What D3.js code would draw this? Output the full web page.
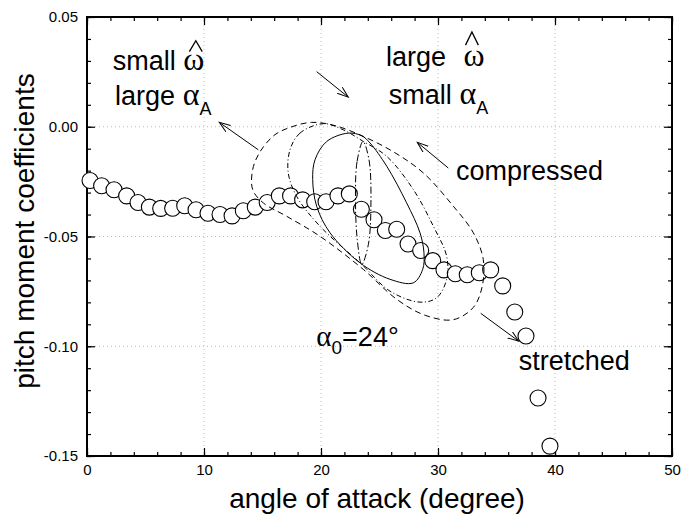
<!DOCTYPE html>
<html>
<head>
<meta charset="utf-8">
<script src="https://cdn.jsdelivr.net/npm/d3@7"></script>
<style>
  body { margin: 0; background: #fff; }
  text { font-family: "Liberation Sans", Arial, sans-serif; }
  .greek { font-family: "Liberation Serif", "DejaVu Serif", serif; }
</style>
</head>
<body>
<div id="chart"></div>
<script>
// static pitch moment data (open circles)
const alphaStatic = [0.26, 1.25, 2.31, 3.39, 4.36, 5.33, 6.3, 7.32, 8.35, 9.32,
    10.34, 11.37, 12.4, 13.36, 14.38, 15.4, 16.44, 17.4, 18.43, 19.46,
    20.43, 21.45, 22.42, 23.45, 24.53, 25.5, 26.47, 27.44, 28.52, 29.55,
    30.51, 31.48, 32.5, 33.53, 34.5, 35.53, 36.56, 37.52, 38.55, 39.57];
const cmStatic = [-0.0245, -0.0269, -0.0287, -0.0315, -0.0345, -0.0366, -0.0372, -0.0371, -0.036, -0.0378,
    -0.0394, -0.04, -0.0406, -0.0383, -0.0366, -0.0345, -0.0315, -0.0315, -0.0333, -0.0342,
    -0.0342, -0.0315, -0.0306, -0.0376, -0.0424, -0.0473, -0.0467, -0.0534, -0.0564, -0.061,
    -0.0652, -0.067, -0.0674, -0.0665, -0.0652, -0.0725, -0.0844, -0.0953, -0.1236, -0.1455];

// dynamic loops, [alpha, cm]
const solidLoop = [[22.33, -0.0029], [20.49, -0.0067], [19.49, -0.015], [19.29, -0.0241], [19.63, -0.0362],
    [20.77, -0.0483], [23.33, -0.062], [25.9, -0.0695], [27.89, -0.0711], [28.69, -0.065],
    [28.8, -0.0574], [28.46, -0.0483], [27.32, -0.0347], [25.62, -0.018], [24.19, -0.0074], [23.48, -0.0041]];
const narrowLoop = [[23.59, -0.0067], [23.08, -0.016], [22.95, -0.0345], [23.1, -0.0514], [23.48, -0.0627],
    [24.05, -0.0536], [24.27, -0.0332], [24.1, -0.015]];
const dashDotLoop = [[20.2, 0.0014], [18.2, -0.0029], [17.35, -0.0105], [17.2, -0.021], [17.92, -0.0317],
    [19.91, -0.0453], [23.48, -0.0627], [25.9, -0.0749], [28.46, -0.0799], [29.89, -0.0779],
    [30.74, -0.0695], [30.74, -0.059], [29.6, -0.0453], [27.89, -0.0286], [25.62, -0.0135],
    [23.62, -0.0067], [21.9, -0.0014]];
const dashedLoop = [[14.16, -0.0286], [14.16, -0.0195], [14.79, -0.0114], [16.07, -0.0036], [17.52, 0.0],
    [19.2, 0.002], [21.2, 0.0005], [23.62, -0.0044], [26.18, -0.0114], [28.74, -0.021],
    [31.31, -0.0362], [33.02, -0.0483], [33.87, -0.0605], [33.76, -0.0732], [33.02, -0.0823],
    [31.31, -0.0879], [28.9, -0.0859], [26.47, -0.0786], [23.62, -0.065], [19.91, -0.0499],
    [17.07, -0.0408], [15.07, -0.0347]];

// arrows [[x0, y0], [x1, y1]] in data units, head at the second point
const arrows = [
    [[14.64, -0.0105], [11.31, 0.002]],
    [[19.63, 0.0251], [22.33, 0.0135]],
    [[30.88, -0.0188], [28.23, -0.0071]],
    [[33.65, -0.085], [36.9, -0.0977]]
];

const xTicks = [0, 10, 20, 30, 40, 50];
const yTicks = [0.05, 0.00, -0.05, -0.10, -0.15];

const margin = { top: 17, right: 11, bottom: 60, left: 87 },
    width = 683 - margin.left - margin.right,
    height = 516 - margin.top - margin.bottom;

let svg = d3.select('#chart')
    .append('svg')
    .attr('width', 683)
    .attr('height', 516);

let group = svg.append('g')
    .attr('transform', 'translate(' + margin.left + ',' + margin.top + ')');

const x = d3.scaleLinear().domain([0, 50]).range([0, width]);
const y = d3.scaleLinear().domain([-0.15, 0.05]).range([height, 0]);

// dotted grid
group.selectAll('.gx')
    .data(xTicks.slice(1, -1))
    .join('line')
    .attr('x1', d => x(d)).attr('x2', d => x(d))
    .attr('y1', 0).attr('y2', height)
    .attr('stroke', '#bbb').attr('stroke-dasharray', '1,3');
group.selectAll('.gy')
    .data(yTicks.slice(1, -1))
    .join('line')
    .attr('y1', d => y(d)).attr('y2', d => y(d))
    .attr('x1', 0).attr('x2', width)
    .attr('stroke', '#bbb').attr('stroke-dasharray', '1,3');

// axes with inward ticks
function styleAxis(g) {
    g.select('.domain').remove();
    g.selectAll('line').attr('stroke', '#000').attr('stroke-width', 1.2);
    g.selectAll('text').attr('font-size', 15).attr('fill', '#000')
        .attr('font-family', '"Liberation Sans", Arial, sans-serif');
}

const minorX = d3.range(0, 51, 2);
const minorY = d3.range(-15, 6).map(d => d / 100);

group.append('g')
    .attr('transform', `translate(0,${height})`)
    .call(d3.axisBottom(x).tickValues(xTicks).tickSize(-8).tickPadding(8).tickFormat(d3.format('d')))
    .call(styleAxis);
group.append('g')
    .attr('transform', `translate(0,${height})`)
    .call(d3.axisBottom(x).tickValues(minorX).tickSize(-4).tickFormat(''))
    .call(styleAxis);
group.append('g')
    .call(d3.axisTop(x).tickValues(xTicks).tickSize(-8).tickFormat(''))
    .call(styleAxis);
group.append('g')
    .call(d3.axisTop(x).tickValues(minorX).tickSize(-4).tickFormat(''))
    .call(styleAxis);

group.append('g')
    .call(d3.axisLeft(y).tickValues(yTicks).tickSize(-8).tickPadding(9).tickFormat(d => d.toFixed(2)))
    .call(styleAxis);
group.append('g')
    .call(d3.axisLeft(y).tickValues(minorY).tickSize(-4).tickFormat(''))
    .call(styleAxis);
group.append('g')
    .attr('transform', `translate(${width},0)`)
    .call(d3.axisRight(y).tickValues(yTicks).tickSize(-8).tickFormat(''))
    .call(styleAxis);
group.append('g')
    .attr('transform', `translate(${width},0)`)
    .call(d3.axisRight(y).tickValues(minorY).tickSize(-4).tickFormat(''))
    .call(styleAxis);

// frame
group.append('rect')
    .attr('width', width).attr('height', height)
    .attr('fill', 'none').attr('stroke', '#000').attr('stroke-width', 2);

// static points
group.selectAll('.pt')
    .data(alphaStatic.map((a, i) => [a, cmStatic[i]]))
    .join('circle')
    .attr('cx', d => x(d[0]))
    .attr('cy', d => y(d[1]))
    .attr('r', 8)
    .attr('fill', '#fff')
    .attr('stroke', '#000')
    .attr('stroke-width', 1.1);

// loops
const loopLine = d3.line()
    .x(d => x(d[0]))
    .y(d => y(d[1]))
    .curve(d3.curveCatmullRomClosed.alpha(0.5));

const loops = [
    { pts: dashedLoop, dash: '6,4' },
    { pts: dashDotLoop, dash: '5,2.5,1,2.5' },
    { pts: narrowLoop, dash: '7,2.5,1.5,2.5' },
    { pts: solidLoop, dash: null }
];
loops.forEach(l => {
    group.append('path')
        .attr('d', loopLine(l.pts))
        .attr('fill', 'none')
        .attr('stroke', '#000')
        .attr('stroke-width', 1)
        .attr('stroke-dasharray', l.dash);
});

// arrows
svg.append('defs').append('marker')
    .attr('id', 'head')
    .attr('markerUnits', 'userSpaceOnUse')
    .attr('markerWidth', 14).attr('markerHeight', 10)
    .attr('refX', 11).attr('refY', 4)
    .attr('orient', 'auto')
    .append('path')
    .attr('d', 'M0,0 L11,4 L0,8')
    .attr('fill', 'none').attr('stroke', '#000').attr('stroke-width', 1);

group.selectAll('.arrow')
    .data(arrows)
    .join('line')
    .attr('x1', d => x(d[0][0])).attr('y1', d => y(d[0][1]))
    .attr('x2', d => x(d[1][0])).attr('y2', d => y(d[1][1]))
    .attr('stroke', '#000').attr('stroke-width', 1)
    .attr('marker-end', 'url(#head)');

// annotations
function label(xv, yv, parts) {
    let t = group.append('text')
        .attr('x', x(xv)).attr('y', y(yv))
        .attr('font-size', 27);
    parts.forEach(p => {
        let s = t.append('tspan').text(p.t);
        if (p.greek) s.attr('class', 'greek');
        if (p.dx) s.attr('dx', p.dx);
        if (p.dy) s.attr('dy', p.dy);
        if (p.size) s.attr('font-size', p.size);
    });
    return t;
}
// circumflex drawn as a thin chevron over omega
function hat(xc, yTop, yFoot) {
    group.append('path')
        .attr('d', `M${x(xc - 0.55)},${y(yFoot)} L${x(xc)},${y(yTop)} L${x(xc + 0.55)},${y(yFoot)}`)
        .attr('fill', 'none').attr('stroke', '#000').attr('stroke-width', 1.3);
}

label(2.2, 0.0259, [{ t: 'small ' }, { t: 'ω', greek: true, size: 32 }]);
hat(9.3, 0.0392, 0.0342);
label(2.4, 0.0100, [{ t: 'large ' }, { t: 'α', greek: true, size: 32 }, { t: 'A', size: 18, dy: 10 }]);

label(25.55, 0.0277, [{ t: 'large ' }, { t: 'ω', greek: true, size: 32, dx: 10 }]);
hat(32.9, 0.0432, 0.0372);
label(25.8, 0.0105, [{ t: 'small ' }, { t: 'α', greek: true, size: 32 }, { t: 'A', size: 18, dy: 10 }]);

label(31.54, -0.0241, [{ t: 'compressed' }]);
label(36.9, -0.1108, [{ t: 'stretched' }]);
label(19.6, -0.1000, [{ t: 'α', greek: true, size: 29 }, { t: '0', size: 19, dy: 8 }, { t: '=24°', dy: -8 }]);

// axis titles
svg.append('text')
    .attr('x', 377).attr('y', 508)
    .attr('text-anchor', 'middle')
    .attr('font-size', 28)
    .text('angle of attack (degree)');
svg.append('text')
    .attr('transform', 'translate(34,231) rotate(-90)')
    .attr('text-anchor', 'middle')
    .attr('font-size', 28)
    .text('pitch moment coefficients');
</script>
</body>
</html>
